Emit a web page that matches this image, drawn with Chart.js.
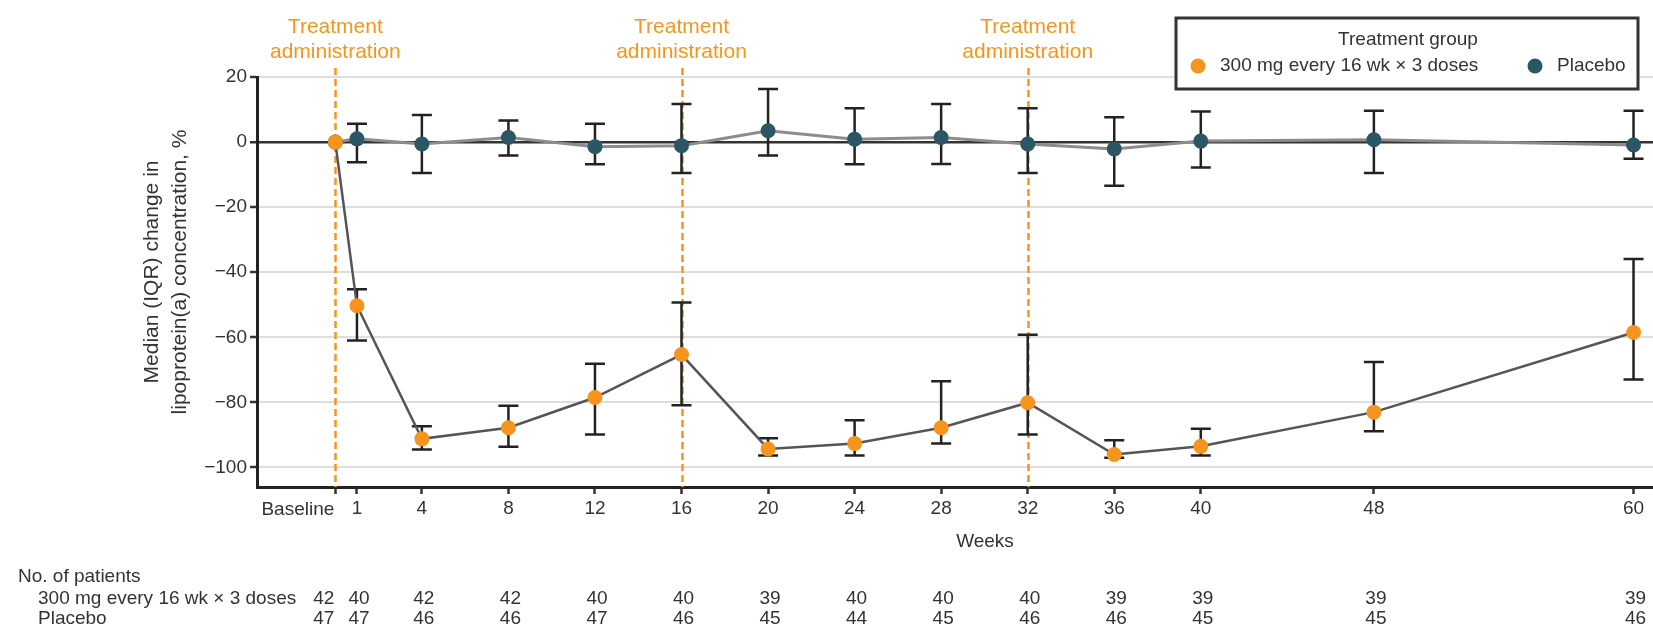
<!DOCTYPE html>
<html>
<head>
<meta charset="utf-8">
<script src="https://cdn.jsdelivr.net/npm/chart.js@4.4.1/dist/chart.umd.min.js"></script>
<style>
  html, body { margin: 0; padding: 0; background: #fff; overflow: hidden; }
  #wrap { width: 1653px; height: 638px; position: relative; }
  #chart { display: block; }
</style>
</head>
<body>
<div id="wrap"><canvas id="chart"></canvas></div>
<script>
// weeks on the x axis
const weeks = [0, 1, 4, 8, 12, 16, 20, 24, 28, 32, 36, 40, 48, 60];
const yTicks = [20, 0, -20, -40, -60, -80, -100];
const doseWeeks = [0, 16, 32];

// 300 mg every 16 wk x 3 doses : median, Q1, Q3
const treatMedian = [0, -50.3, -91.2, -87.8, -78.5, -65.3, -94.3, -92.6, -87.8, -80.1, -96.0, -93.5, -83.0, -58.5];
const treatQ1     = [null, -61.0, -94.5, -93.6, -89.9, -80.9, -96.3, -96.3, -92.6, -89.9, -97.0, -96.3, -88.9, -73.0];
const treatQ3     = [null, -45.2, -87.3, -81.0, -68.1, -49.3, -91.0, -85.5, -73.5, -59.2, -91.6, -88.1, -67.6, -35.9];

// placebo : median, Q1, Q3
const placeboMedian = [0, 1.0, -0.6, 1.4, -1.4, -1.1, 3.5, 0.9, 1.4, -0.6, -2.1, 0.3, 0.7, -0.9];
const placeboQ1     = [null, -6.2, -9.5, -4.1, -6.8, -9.5, -4.1, -6.8, -6.7, -9.5, -13.4, -7.8, -9.5, -5.1];
const placeboQ3     = [null, 5.6, 8.3, 6.6, 5.6, 11.7, 16.3, 10.4, 11.7, 10.4, 7.6, 9.4, 9.6, 9.6];

// number of patients
const treatN   = [42, 40, 42, 42, 40, 40, 39, 40, 40, 40, 39, 39, 39, 39];
const placeboN = [47, 47, 46, 46, 47, 46, 45, 44, 45, 46, 46, 45, 45, 46];

const treatLabel = '300 mg every 16 wk × 3 doses';
const placeboLabel = 'Placebo';

const FONT = "'Liberation Sans', Arial, sans-serif";
const orange = '#f7941d';
const teal = '#2b5664';
const ink = '#333';

const toPts = vals => weeks.map((w, i) => ({ x: w, y: vals[i] }));

function fmt(v) {
    return v < 0 ? '\u2212' + Math.abs(v) : String(v);
}

// dashed dose lines + IQR whiskers, under the points
const underlay = {
    id: 'underlay',
    beforeDatasetsDraw(chart) {
        const { ctx, scales: { x, y }, chartArea } = chart;
        ctx.save();
        ctx.strokeStyle = orange;
        ctx.lineWidth = 2.5;
        ctx.setLineDash([7, 4]);
        doseWeeks.forEach(w => {
            const px = Math.round(x.getPixelForValue(w)) + 0.5;
            ctx.beginPath();
            ctx.moveTo(px, 68);
            ctx.lineTo(px, chartArea.bottom);
            ctx.stroke();
        });
        ctx.setLineDash([]);

        ctx.strokeStyle = '#222';
        ctx.lineWidth = 2.5;
        const whisk = (lo, hi) => {
            weeks.forEach((w, i) => {
                if (lo[i] == null) return;
                const px = x.getPixelForValue(w);
                const a = y.getPixelForValue(lo[i]);
                const b = y.getPixelForValue(hi[i]);
                ctx.beginPath();
                ctx.moveTo(px, a); ctx.lineTo(px, b);
                ctx.moveTo(px - 10, a); ctx.lineTo(px + 10, a);
                ctx.moveTo(px - 10, b); ctx.lineTo(px + 10, b);
                ctx.stroke();
            });
        };
        whisk(placeboQ1, placeboQ3);
        whisk(treatQ1, treatQ3);
        ctx.restore();
    }
};

// texts, legend and patient counts
const overlay = {
    id: 'overlay',
    afterDraw(chart) {
        const { ctx, scales: { x } } = chart;
        ctx.save();
        ctx.textBaseline = 'middle';

        // treatment administration labels
        ctx.fillStyle = orange;
        ctx.font = '21px ' + FONT;
        ctx.textAlign = 'center';
        doseWeeks.forEach(w => {
            const px = x.getPixelForValue(w);
            ctx.fillText('Treatment', px, 27);
            ctx.fillText('administration', px, 52);
        });

        // y axis title
        ctx.fillStyle = ink;
        ctx.font = '21px ' + FONT;
        ctx.save();
        ctx.translate(152, 272);
        ctx.rotate(-Math.PI / 2);
        ctx.fillText('Median (IQR) change in', 0, 0);
        ctx.fillText('lipoprotein(a) concentration, %', 0, 28);
        ctx.restore();

        // x axis
        ctx.font = '19px ' + FONT;
        ctx.textAlign = 'right';
        ctx.fillText('Baseline', x.getPixelForValue(0) - 1, 510);
        ctx.textAlign = 'center';
        ctx.fillText('Weeks', 985, 542);

        // counts
        ctx.textAlign = 'left';
        ctx.fillText('No. of patients', 18, 577);
        ctx.fillText(treatLabel, 38, 599);
        ctx.fillText(placeboLabel, 38, 619);
        weeks.forEach((w, i) => {
            const px = x.getPixelForValue(w);
            if (i === 0) {
                ctx.textAlign = 'right';
                ctx.fillText(treatN[i], px - 1, 599);
                ctx.fillText(placeboN[i], px - 1, 619);
            } else {
                ctx.textAlign = 'center';
                ctx.fillText(treatN[i], px + 2, 599);
                ctx.fillText(placeboN[i], px + 2, 619);
            }
        });

        // legend box
        ctx.fillStyle = '#fff';
        ctx.fillRect(1176, 18, 462, 71);
        ctx.strokeStyle = ink;
        ctx.lineWidth = 3;
        ctx.strokeRect(1176, 18, 462, 71);
        ctx.fillStyle = ink;
        ctx.textAlign = 'center';
        ctx.fillText('Treatment group', 1408, 40);
        ctx.textAlign = 'left';
        ctx.fillText(treatLabel, 1220, 66);
        ctx.fillText(placeboLabel, 1557, 66);
        ctx.fillStyle = orange;
        ctx.beginPath(); ctx.arc(1198, 66, 7.5, 0, Math.PI * 2); ctx.fill();
        ctx.fillStyle = teal;
        ctx.beginPath(); ctx.arc(1535, 66, 7.5, 0, Math.PI * 2); ctx.fill();
        ctx.restore();
    }
};

new Chart(document.getElementById('chart'), {
    type: 'line',
    data: {
        datasets: [
            {
                label: treatLabel,
                data: toPts(treatMedian),
                borderColor: '#555',
                borderWidth: 2.5,
                pointRadius: 7.5,
                pointBorderWidth: 0,
                pointBackgroundColor: orange,
                tension: 0
            },
            {
                label: placeboLabel,
                data: toPts(placeboMedian),
                borderColor: '#8c8c8c',
                borderWidth: 3,
                pointRadius: 7.5,
                pointBorderWidth: 0,
                pointBackgroundColor: teal,
                tension: 0
            }
        ]
    },
    options: {
        responsive: true,
        maintainAspectRatio: false,
        animation: false,
        events: [],
        layout: { autoPadding: false, padding: { top: 77, left: 0, right: 0, bottom: 0 } },
        plugins: {
            legend: { display: false },
            tooltip: { enabled: false }
        },
        scales: {
            x: {
                type: 'linear',
                min: -3.62,
                max: 60.9,
                afterFit: s => { s.height = 151; },
                afterBuildTicks: s => { s.ticks = weeks.map(v => ({ value: v })); },
                grid: { drawOnChartArea: false, tickLength: 7, tickColor: ink, tickWidth: 2.5 },
                border: { color: '#222', width: 3 },
                ticks: {
                    color: ink,
                    font: { family: FONT, size: 19 },
                    padding: 3,
                    maxRotation: 0,
                    autoSkip: false,
                    callback: v => v === 0 ? '' : String(v)
                }
            },
            y: {
                min: -106,
                max: 20,
                afterFit: s => { s.width = 257; },
                afterBuildTicks: s => { s.ticks = yTicks.map(v => ({ value: v })); },
                grid: {
                    color: c => c.tick && c.tick.value === 0 ? '#333' : '#dedede',
                    lineWidth: c => c.tick && c.tick.value === 0 ? 2.5 : 2,
                    tickLength: 7,
                    tickColor: ink,
                    tickWidth: 2.5
                },
                border: { color: '#222', width: 3 },
                ticks: {
                    color: ink,
                    font: { family: FONT, size: 19 },
                    padding: 3,
                    callback: v => fmt(v)
                }
            }
        }
    },
    plugins: [underlay, overlay]
});
</script>
</body>
</html>
